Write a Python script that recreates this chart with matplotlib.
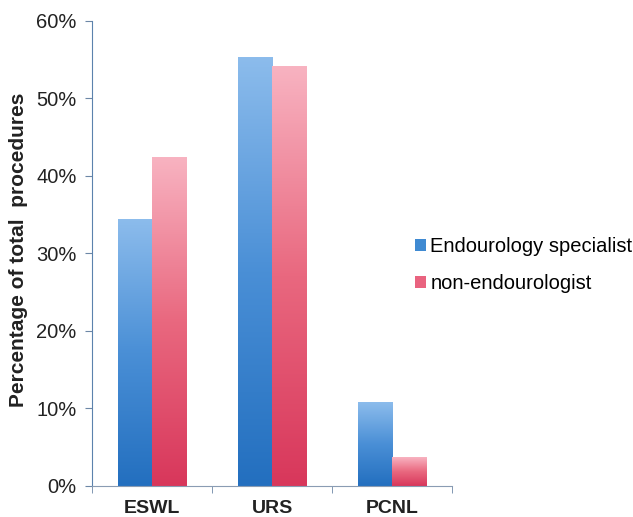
import numpy as np
import matplotlib
matplotlib.use("Agg")
import matplotlib.pyplot as plt
from matplotlib.colors import LinearSegmentedColormap

plt.rcParams["font.family"] = ["Liberation Sans", "DejaVu Sans"]

categories = ["ESWL", "URS", "PCNL"]
specialist = [34.4, 55.3, 10.8]
non_endo = [42.4, 54.1, 3.7]
series_names = ["Endourology specialist", "non-endourologist"]

blue_cmap = LinearSegmentedColormap.from_list("b", ["#236fbf", "#4a8fd6", "#8cbcec"])
red_cmap = LinearSegmentedColormap.from_list("r", ["#d8375b", "#e9687f", "#f8b3c1"])

fig = plt.figure(figsize=(6.33, 5.17), dpi=100)
ax = fig.add_axes([0.1449, 0.0605, 0.5697, 0.8995])

x = np.arange(len(categories))
w = 0.285
bars_b = ax.bar(x - w / 2, specialist, w, color="#3f8ad2", label=series_names[0])
bars_r = ax.bar(x + w / 2, non_endo, w, color="#e9637f", label=series_names[1])

# vertical gradient inside each bar
grad = np.linspace(0, 1, 256).reshape(-1, 1)
for bars, cmap in [(bars_b, blue_cmap), (bars_r, red_cmap)]:
    for b in bars:
        x0, h = b.get_x(), b.get_height()
        im = ax.imshow(grad, cmap=cmap, origin="lower", aspect="auto",
                       extent=[x0, x0 + b.get_width(), 0, h], zorder=2)
        im.set_clip_path(b)

ax.set_xlim(-0.5, 2.5)
ax.set_ylim(0, 60)
ax.set_yticks(np.arange(0, 61, 10))
ax.set_yticklabels([f"{v}%" for v in range(0, 61, 10)], fontsize=14.5, color="#222222")
ax.set_xticks(x)
ax.set_xticklabels(categories, fontsize=14, fontweight="bold", color="#222222")
ax.set_xticks([-0.5, 0.5, 1.5, 2.5], minor=True)
ax.tick_params(axis="x", which="major", length=0, pad=10)
ax.tick_params(axis="x", which="minor", length=5, color="#6d87a6", direction="out")
ax.tick_params(axis="y", length=5, color="#6d87a6", pad=6)

for s in ["top", "right"]:
    ax.spines[s].set_visible(False)
ax.spines["left"].set_color("#5b82ad")
ax.spines["bottom"].set_color("#8a9cb3")

ax.set_ylabel("Percentage of total  procedures", fontsize=15, fontweight="bold",
              color="#222222")
ax.yaxis.set_label_coords(-0.177, 0.507)

ax.legend(loc="center left", bbox_to_anchor=(0.656, 0.4874), bbox_transform=fig.transFigure,
          frameon=False, fontsize=14.5, handlelength=0.55, handleheight=0.55,
          handletextpad=0.2, labelspacing=0.9, borderpad=0, borderaxespad=0)

fig.savefig("out.png", dpi=100, facecolor="white")
